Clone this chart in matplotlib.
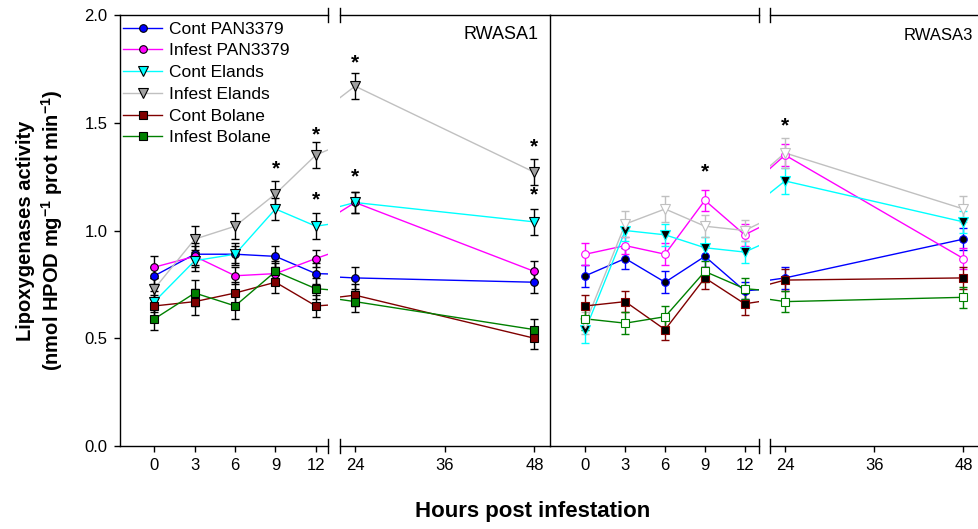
import matplotlib
matplotlib.use('Agg')
import matplotlib.pyplot as plt
from matplotlib.lines import Line2D

plt.rcParams['font.family'] = ['Liberation Sans', 'DejaVu Sans']
plt.rcParams['mathtext.fontset'] = 'custom'
plt.rcParams['mathtext.rm'] = 'Liberation Sans:bold'
plt.rcParams['mathtext.it'] = 'Liberation Sans:bold'
plt.rcParams['mathtext.bf'] = 'Liberation Sans:bold'

# sampling times (hours post infestation)
hours = [0, 3, 6, 9, 12, 24, 48]

labels = ['Cont PAN3379', 'Infest PAN3379', 'Cont Elands',
          'Infest Elands', 'Cont Bolane', 'Infest Bolane']
colors = ['#0000FF', '#FF00FF', '#00FFFF', '#C0C0C0', '#800000', '#008000']
markers = ['o', 'o', 'v', 'v', 's', 's']

# RWASA1 means and errors
rwasa1 = [
    [0.79, 0.89, 0.89, 0.88, 0.80, 0.78, 0.76],
    [0.83, 0.88, 0.79, 0.80, 0.87, 1.13, 0.81],
    [0.67, 0.86, 0.89, 1.10, 1.02, 1.13, 1.04],
    [0.73, 0.96, 1.02, 1.17, 1.35, 1.67, 1.27],
    [0.65, 0.67, 0.71, 0.76, 0.65, 0.70, 0.50],
    [0.59, 0.71, 0.65, 0.81, 0.73, 0.67, 0.54],
]
rwasa1_err = [
    [0.04, 0.05, 0.04, 0.05, 0.05, 0.05, 0.05],
    [0.05, 0.05, 0.04, 0.05, 0.04, 0.05, 0.05],
    [0.05, 0.05, 0.05, 0.05, 0.06, 0.05, 0.06],
    [0.05, 0.06, 0.06, 0.06, 0.06, 0.06, 0.06],
    [0.05, 0.06, 0.05, 0.05, 0.05, 0.05, 0.05],
    [0.05, 0.06, 0.06, 0.05, 0.05, 0.05, 0.05],
]

# RWASA3 means and errors
rwasa3 = [
    [0.79, 0.87, 0.76, 0.88, 0.72, 0.78, 0.96],
    [0.89, 0.93, 0.89, 1.14, 0.98, 1.35, 0.87],
    [0.54, 1.00, 0.98, 0.92, 0.90, 1.23, 1.04],
    [0.57, 1.03, 1.10, 1.02, 1.00, 1.36, 1.10],
    [0.65, 0.67, 0.54, 0.78, 0.66, 0.77, 0.78],
    [0.59, 0.57, 0.60, 0.81, 0.73, 0.67, 0.69],
]
rwasa3_err = [
    [0.05, 0.05, 0.05, 0.05, 0.04, 0.05, 0.05],
    [0.05, 0.04, 0.05, 0.05, 0.05, 0.05, 0.05],
    [0.06, 0.05, 0.05, 0.05, 0.05, 0.06, 0.05],
    [0.05, 0.06, 0.06, 0.05, 0.05, 0.07, 0.06],
    [0.05, 0.05, 0.05, 0.05, 0.05, 0.05, 0.05],
    [0.05, 0.05, 0.05, 0.05, 0.05, 0.05, 0.05],
]

# significance asterisks (hour, height)
stars1 = [(9, 1.285), (12, 1.443), (12, 1.14), (24, 1.776), (24, 1.25), (48, 1.389), (48, 1.165)]
stars3 = [(9, 1.273), (24, 1.485)]

fig = plt.figure(figsize=(9.79, 5.29), dpi=100)
bot, hgt = 0.1569, 0.8147
ax1 = fig.add_axes([0.1226, bot, 0.2125, hgt])
ax2 = fig.add_axes([0.3473, bot, 0.2141, hgt])
ax3 = fig.add_axes([0.5614, bot, 0.2135, hgt])
ax4 = fig.add_axes([0.7869, bot, 0.2131, hgt])

ax1.set_xlim(-2.56, 12.91)
ax2.set_xlim(21.99, 50.03)
ax3.set_xlim(-2.70, 13.05)
ax4.set_xlim(22.03, 50.1)


def draw(ax, means, errs, filled):
    for i in range(6):
        c = colors[i]
        ax.plot(hours, means[i], color=c, lw=1.0, zorder=2)
        if filled:
            ecol, fc, mec = 'black', ('#A0A0A0' if i == 3 else c), 'black'
        else:
            ecol, mec = c, c
            fc = 'black' if i % 2 == 0 else 'white'
        ax.errorbar(hours, means[i], yerr=errs[i], fmt='none', ecolor=ecol,
                    elinewidth=1.0, capsize=3, capthick=1.0, zorder=3)
        ms = 6.5 if markers[i] == 'v' else 5.5
        ax.plot(hours, means[i], ls='none', marker=markers[i], ms=ms,
                mfc=fc, mec=mec, mew=0.8, zorder=4)


def stars(ax, pts):
    lo, hi = ax.get_xlim()
    for x, y in pts:
        if lo <= x <= hi:
            ax.text(x, y, '*', ha='center', va='center', fontsize=15, fontweight='bold')


draw(ax1, rwasa1, rwasa1_err, True)
draw(ax2, rwasa1, rwasa1_err, True)
draw(ax3, rwasa3, rwasa3_err, False)
draw(ax4, rwasa3, rwasa3_err, False)

for ax in (ax1, ax2, ax3, ax4):
    ax.set_ylim(0, 2.0)
    ax.patch.set_visible(False)
    ax.tick_params(direction='out', length=4, width=1.0, labelsize=12, pad=5)
    for s in ax.spines.values():
        s.set_linewidth(1.0)
        s.set_color('black')
    ax.spines['right'].set_visible(False)

ax1.set_xlim(-2.56, 12.91)
ax2.set_xlim(21.99, 50.03)
ax3.set_xlim(-2.70, 13.05)
ax4.set_xlim(22.03, 50.1)

stars(ax1, stars1)
stars(ax2, stars1)
stars(ax3, stars3)
stars(ax4, stars3)

for ax in (ax1, ax3):
    ax.set_xticks([0, 3, 6, 9, 12])
for ax in (ax2, ax4):
    ax.set_xticks([24, 36, 48])
    ax.spines['left'].set_visible(False)
ax2.spines['right'].set_visible(True)
ax3.spines['left'].set_visible(False)

ax1.set_yticks([0.0, 0.5, 1.0, 1.5, 2.0])
ax1.set_yticklabels(['0.0', '0.5', '1.0', '1.5', '2.0'])
for ax in (ax2, ax3, ax4):
    ax.set_yticks([])

# break marks
for ax, xb in ((ax1, 1), (ax2, 0), (ax3, 1), (ax4, 0)):
    for yb in (0, 1):
        ax.plot([xb, xb], [yb - 0.016, yb + 0.016], color='black', lw=1.0,
                transform=ax.transAxes, clip_on=False)

ax2.text(0.945, 0.955, 'RWASA1', transform=ax2.transAxes, ha='right', va='center', fontsize=13)
ax4.text(0.971, 0.953, 'RWASA3', transform=ax4.transAxes, ha='right', va='center', fontsize=12)

ax1.set_ylabel('Lipoxygenases activity\n(nmol HPOD mg$^{-1}$ prot min$^{-1}$)',
               fontsize=14.5, fontweight='bold', labelpad=14)
fig.text(533 / 979, 1 - 512 / 529, 'Hours post infestation', ha='center', va='center',
         fontsize=16, fontweight='bold')

handles = []
for i in range(6):
    fc = '#A0A0A0' if i == 3 else colors[i]
    handles.append(Line2D([], [], color=colors[i], lw=1.0, marker=markers[i],
                          ms=6.5 if markers[i] == 'v' else 5.5, mfc=fc, mec='black', mew=0.8))
ax1.legend(handles, labels, loc='upper left', bbox_to_anchor=(0.0, 0.993), frameon=False,
           fontsize=12.5, handlelength=2.2, handletextpad=0.4, labelspacing=0.38,
           borderaxespad=0.0, borderpad=0.2)

fig.savefig('out.png', dpi=100)
